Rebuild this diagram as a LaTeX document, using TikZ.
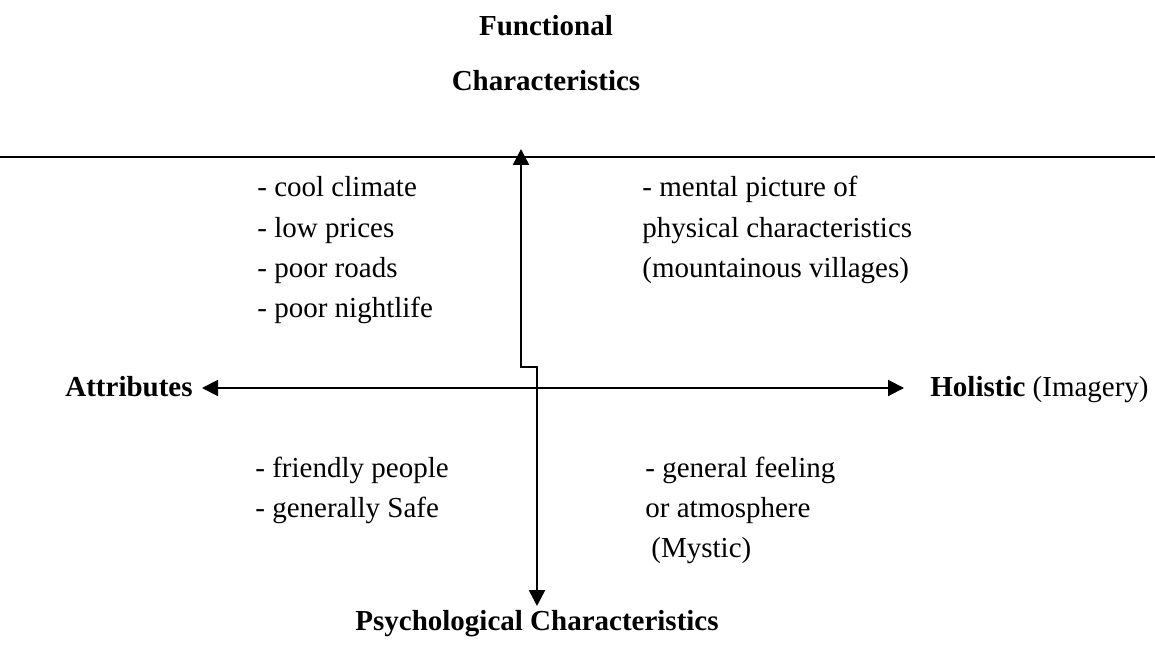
\documentclass[tikz,border=0pt]{standalone}
\usepackage{fontspec}
\setmainfont{Liberation Serif}
\usetikzlibrary{arrows.meta}

\tikzset{
  txt/.style={font=\fontsize{14.5}{17}\selectfont, inner sep=0pt, anchor=base west},
  hdr/.style={font=\fontsize{14.5}{17}\selectfont\bfseries, inner sep=0pt, anchor=base},
  axis/.style={line width=1.25pt, {Triangle[length=8pt,width=8pt]}-{Triangle[length=8pt,width=8pt]}},
  rule/.style={line width=1pt}
}

\begin{document}
\begin{tikzpicture}[x=0.5pt,y=-0.5pt]
            \useasboundingbox (0,0) rectangle (1155,652);
            % headings
            \node [hdr] (func) at (546,36) {Functional};
            \node [hdr] (funcchar) at (546,91) {Characteristics};
            \node [hdr] (psych) at (537,630) {Psychological Characteristics};
            \node [txt, font=\fontsize{14.5}{17}\selectfont\bfseries] (attr) at (65,396) {Attributes};
            \node [txt] (holi) at (930,396) {\textbf{Holistic} (Imagery)};
            % upper left
            \node [txt] (cool) at (257,197) {- cool climate};
            \node [txt] (low) at (257,237) {- low prices};
            \node [txt] (roads) at (257,277) {- poor roads};
            \node [txt] (night) at (257,317) {- poor nightlife};
            % upper right
            \node [txt] (mental) at (642,197) {- mental picture of};
            \node [txt] (phys) at (642,237) {physical characteristics};
            \node [txt] (mount) at (642,277) {(mountainous villages)};
            % lower left
            \node [txt] (friend) at (255,477) {- friendly people};
            \node [txt] (safe) at (255,517) {- generally Safe};
            % lower right
            \node [txt] (feel) at (645,477) {- general feeling};
            \node [txt] (atmo) at (645,517) {or atmosphere};
            \node [txt] (mystic) at (651,557) {(Mystic)};
            % axes
            \coordinate (rulel) at (0,157);
            \coordinate (ruler) at (1155,157);
            \coordinate (topend) at (521,149);
            \coordinate (jogup) at (521,367);
            \coordinate (jogdown) at (537,367);
            \coordinate (botend) at (537,606);
            \coordinate (leftend) at (202,388);
            \coordinate (rightend) at (904,388);
            \draw [rule] (rulel) -- (ruler);
            \draw [axis] (topend) -- (jogup) -- (jogdown) -- (botend);
            \draw [axis, line width=1pt] (leftend) -- (rightend);
\end{tikzpicture}
\end{document}
